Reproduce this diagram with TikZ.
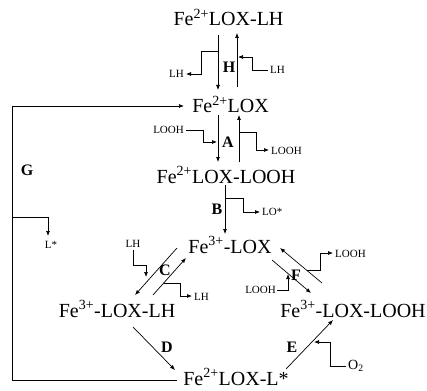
\documentclass[tikz,border=0pt]{standalone}
\usepackage{fontspec}
\setmainfont{Liberation Serif}
\usetikzlibrary{arrows.meta}
\begin{document}
\begin{tikzpicture}[x=1pt,y=-1pt,
 main/.style={font=\fontsize{20}{20}\selectfont, inner sep=0pt, anchor=base},
 sm/.style={font=\fontsize{11}{11}\selectfont, inner sep=0pt},
 lett/.style={font=\fontsize{16}{16}\selectfont\bfseries, inner sep=0pt},
 arr/.style={-{Latex[length=5pt,width=4pt]}, line width=0.7pt},
 ln/.style={line width=0.7pt}]
\useasboundingbox (0,0) rectangle (427,390);
% main species
\node[main] (n1) at (228.5,26) {Fe\textsuperscript{2+}LOX-LH};
\node[main] (n2) at (230.5,113) {Fe\textsuperscript{2+}LOX};
\node[main] (n3) at (226,183) {Fe\textsuperscript{2+}LOX-LOOH};
\node[main] (n4) at (230,253) {Fe\textsuperscript{3+}-LOX};
\node[main] (n5) at (117,317) {Fe\textsuperscript{3+}-LOX-LH};
\node[main] (n6) at (353,317) {Fe\textsuperscript{3+}-LOX-LOOH};
\node[main] (n7) at (236,385) {Fe\textsuperscript{2+}LOX-L*};
% labels
\node[sm, anchor=east] (lhout) at (184,74) {LH};
\node[sm, anchor=west] (lhin) at (270,70) {LH};
\node[lett] (H) at (229,67) {H};
\node[sm, anchor=east] (loohin) at (184,130) {LOOH};
\node[sm, anchor=west] (loohout) at (271,151) {LOOH};
\node[lett] (A) at (228,142) {A};
\node[lett] (G) at (27,170) {G};
\node[sm] (lstar) at (51,245) {L*};
\node[lett] (B) at (217,209) {B};
\node[sm, anchor=west] (lo) at (262,212) {LO*};
\node[sm] (lhc) at (133,244) {LH};
\node[sm, anchor=west] (lhc2) at (194,297) {LH};
\node[lett] (C) at (165,270) {C};
\node[lett] (D) at (167,347) {D};
\node[sm, anchor=west] (loohf) at (335,254) {LOOH};
\node[sm, anchor=east] (loohf2) at (276,290) {LOOH};
\node[lett] (F) at (296,275) {F};
\node[lett] (E) at (292,347) {E};
\node[font=\fontsize{14}{14}\selectfont, inner sep=0pt, anchor=west] (o2) at (348,366) {O\textsubscript{2}};
% H
\coordinate (h1) at (218,35); \coordinate (h2) at (218,90);
\coordinate (h3) at (237,87); \coordinate (h4) at (237,33);
\draw[arr] (h1) -- (h2);
\draw[arr] (h3) -- (h4);
\coordinate (h5) at (218,51); \coordinate (h6) at (201,51); \coordinate (h7) at (201,74); \coordinate (h8) at (186,74);
\draw[arr] (h5) -- (h6) -- (h7) -- (h8);
\coordinate (h9) at (268,70); \coordinate (h10) at (252,70); \coordinate (h11) at (252,57); \coordinate (h12) at (238,57);
\draw[arr] (h9) -- (h10) -- (h11) -- (h12);
% A
\coordinate (a1) at (218,115); \coordinate (a2) at (218,162);
\coordinate (a3) at (239,162); \coordinate (a4) at (239,115);
\draw[arr] (a1) -- (a2);
\draw[arr] (a3) -- (a4);
\coordinate (a5) at (186,130); \coordinate (a6) at (203,130); \coordinate (a7) at (203,142); \coordinate (a8) at (217,142);
\draw[arr] (a5) -- (a6) -- (a7) -- (a8);
\coordinate (a9) at (239,132); \coordinate (a10) at (256,132); \coordinate (a11) at (256,150); \coordinate (a12) at (269,150);
\draw[arr] (a9) -- (a10) -- (a11) -- (a12);
% G loop
\coordinate (g1) at (12,380); \coordinate (g2) at (12,106); \coordinate (g3) at (184,106); \coordinate (g4) at (177,380);
\draw[arr] (g4) -- (g1) -- (g2) -- (g3);
\coordinate (g5) at (12,217); \coordinate (g6) at (48,217); \coordinate (g7) at (48,236);
\draw[arr] (g5) -- (g6) -- (g7);
% B
\coordinate (b1) at (225,185); \coordinate (b2) at (225,234);
\draw[arr] (b1) -- (b2);
\coordinate (b3) at (225,198); \coordinate (b4) at (243,198); \coordinate (b5) at (243,212); \coordinate (b6) at (260,212);
\draw[arr] (b3) -- (b4) -- (b5) -- (b6);
% C
\coordinate (c1) at (177,248); \coordinate (c2) at (135,295);
\coordinate (c3) at (153,295); \coordinate (c4) at (186,258);
\draw[arr] (c1) -- (c2);
\draw[arr] (c3) -- (c4);
\coordinate (c5) at (133,250); \coordinate (c6) at (133,265); \coordinate (c7) at (146,265); \coordinate (c8) at (146,277);
\draw[arr] (c5) -- (c6) -- (c7) -- (c8);
\coordinate (c9) at (164,283); \coordinate (c10) at (180,283); \coordinate (c11) at (180,296); \coordinate (c12) at (192,296);
\draw[arr] (c9) -- (c10) -- (c11) -- (c12);
% D
\coordinate (d1) at (133,327); \coordinate (d2) at (175,370);
\draw[arr] (d1) -- (d2);
% F
\coordinate (f1) at (322,283); \coordinate (f2) at (280,248);
\coordinate (f3) at (272,260); \coordinate (f4) at (311,293);
\draw[arr] (f1) -- (f2);
\draw[arr] (f3) -- (f4);
\coordinate (f5) at (307,270); \coordinate (f6) at (320,270); \coordinate (f7) at (320,253); \coordinate (f8) at (333,253);
\draw[arr] (f5) -- (f6) -- (f7) -- (f8);
\coordinate (f9) at (277,290); \coordinate (f10) at (288,290); \coordinate (f11) at (288,274);
\draw[arr] (f9) -- (f10) -- (f11);
% E
\coordinate (e1) at (286,369); \coordinate (e2) at (333,320);
\draw[arr] (e1) -- (e2);
\coordinate (e3) at (346,366); \coordinate (e4) at (330,366); \coordinate (e5) at (330,342); \coordinate (e6) at (314,342);
\draw[arr] (e3) -- (e4) -- (e5) -- (e6);
\end{tikzpicture}
\end{document}
